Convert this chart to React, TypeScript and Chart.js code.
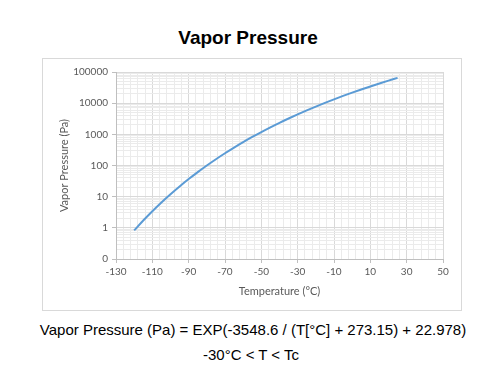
import React, { useEffect, useRef } from 'react';
import { Chart, registerables } from 'chart.js';
Chart.register(...registerables);

const temperatures = [-120, -115, -110, -105, -100, -95, -90, -85, -80, -75, -70, -65, -60, -55, -50, -45, -40, -35, -30, -25, -20, -15, -10, -5, 0, 5, 10, 15, 20, 25];
const pressures = [0.825, 1.72, 3.41, 6.52, 11.98, 21.3, 36.7, 61.4, 100.0, 159, 247, 376, 561, 822, 1183, 1676, 2340, 3221, 4375, 5871, 7787, 10216, 13270, 17070, 21730, 27460, 34400, 42760, 52760, 64600];

const xMin = -130;
const xMax = 50;
const xMinorStep = 4;
const xMajorTicks = [-130, -110, -90, -70, -50, -30, -10, 10, 30, 50];
const xTickLabels = ['-130', '-110', '-90', '-70', '-50', '-30', '-10', '10', '30', '50'];

const yMajorValues = [0.1, 1, 10, 100, 1000, 10000, 100000];
const yTickLabels = ['0', '1', '10', '100', '1000', '10000', '100000'];

const chartTitle = 'Vapor Pressure';
const xTitle = 'Temperature (°C)';
const yTitle = 'Vapor Pressure (Pa)';
const formulaLine1 = 'Vapor Pressure (Pa) = EXP(-3548.6 / (T[°C] + 273.15) + 22.978)';
const formulaLine2 = '-30°C < T < Tc';

const MAJOR = '#d9d9d9';
const MINOR = '#ebebeb';
const TICK_FONT = { family: 'Lato, "Open Sans", sans-serif', size: 10 };
const TITLE_FONT = { family: 'Lato, "Open Sans", sans-serif', size: 11 };

export default function App() {
  const ref = useRef<HTMLCanvasElement | null>(null);

  useEffect(() => {
    if (!ref.current) return;
    const isMajorX = (v: number) => xMajorTicks.indexOf(v) >= 0;
    const isMajorY = (v: number) => yMajorValues.indexOf(v) >= 0;

    const chart = new Chart(ref.current, {
      type: 'line',
      data: {
        datasets: [
          {
            data: temperatures.map((t, i) => ({ x: t, y: pressures[i] })),
            borderColor: '#5b9bd5',
            borderWidth: 2,
            pointRadius: 0,
            cubicInterpolationMode: 'monotone',
            fill: false,
          },
        ],
      },
      options: {
        responsive: false,
        animation: false,
        events: [],
        layout: { padding: { left: 0, top: 13, right: 18, bottom: 0 } },
        plugins: { legend: { display: false }, tooltip: { enabled: false } },
        scales: {
          x: {
            type: 'linear',
            min: xMin,
            max: xMax,
            afterBuildTicks: (scale: any) => {
              const ticks = [];
              for (let v = xMin; v <= xMax; v += xMinorStep) ticks.push({ value: v });
              scale.ticks = ticks;
            },
            afterFit: (scale: any) => {
              scale.height = 51;
            },
            ticks: {
              autoSkip: false,
              maxRotation: 0,
              color: '#595959',
              font: TICK_FONT,
              padding: 3,
              callback: (value: any) => {
                const i = xMajorTicks.indexOf(Number(value));
                return i >= 0 ? xTickLabels[i] : '';
              },
            },
            grid: {
              color: (ctx: any) => (ctx.tick && isMajorX(ctx.tick.value) ? MAJOR : MINOR),
              tickColor: (ctx: any) => (ctx.tick && isMajorX(ctx.tick.value) ? '#bfbfbf' : 'rgba(0,0,0,0)'),
              tickLength: 4,
            },
            border: { color: '#bfbfbf' },
            title: {
              display: true,
              text: xTitle,
              color: '#595959',
              font: TITLE_FONT,
              padding: { top: 0, bottom: 12 },
            },
          },
          y: {
            type: 'logarithmic',
            min: yMajorValues[0],
            max: yMajorValues[yMajorValues.length - 1],
            afterBuildTicks: (scale: any) => {
              const ticks = [];
              for (let d = 0; d < yMajorValues.length - 1; d++) {
                for (let k = 1; k <= 9; k++) ticks.push({ value: yMajorValues[d] * k });
              }
              ticks.push({ value: yMajorValues[yMajorValues.length - 1] });
              scale.ticks = ticks;
            },
            afterFit: (scale: any) => {
              scale.width = 73;
            },
            ticks: {
              autoSkip: false,
              color: '#595959',
              font: TICK_FONT,
              padding: 4,
              callback: (value: any) => {
                const i = yMajorValues.indexOf(Number(value));
                return i >= 0 ? yTickLabels[i] : '';
              },
            },
            grid: {
              color: (ctx: any) => (ctx.tick && isMajorY(ctx.tick.value) ? MAJOR : MINOR),
              tickColor: (ctx: any) => (ctx.tick && isMajorY(ctx.tick.value) ? '#bfbfbf' : 'rgba(0,0,0,0)'),
              tickLength: 4,
            },
            border: { color: '#bfbfbf' },
            title: {
              display: true,
              text: yTitle,
              color: '#595959',
              font: TITLE_FONT,
              padding: { top: 15, bottom: 0 },
            },
          },
        },
      } as any,
    });
    return () => chart.destroy();
  }, []);

  return (
    <div>
      <div
        style={{
          position: 'absolute',
          left: 0,
          top: 26,
          width: 496,
          textAlign: 'center',
          fontFamily: '"Liberation Sans", Arial, sans-serif',
          fontWeight: 'bold',
          fontSize: 19,
          lineHeight: '24px',
          color: '#000',
        }}
      >
        {chartTitle}
      </div>
      <div
        style={{
          position: 'absolute',
          left: 42,
          top: 58,
          width: 420,
          height: 253,
          border: '1px solid #d9d9d9',
          boxSizing: 'border-box',
          background: '#fff',
        }}
      >
        <canvas ref={ref} width={418} height={251} style={{ display: 'block', width: 418, height: 251 }} />
      </div>
      <div
        style={{
          position: 'absolute',
          left: 5,
          top: 320,
          width: 496,
          textAlign: 'center',
          fontFamily: '"Liberation Sans", Arial, sans-serif',
          fontSize: 15,
          lineHeight: '20px',
          color: '#000',
        }}
      >
        {formulaLine1}
      </div>
      <div
        style={{
          position: 'absolute',
          left: 3,
          top: 345,
          width: 496,
          textAlign: 'center',
          fontFamily: '"Liberation Sans", Arial, sans-serif',
          fontSize: 15,
          lineHeight: '20px',
          color: '#000',
        }}
      >
        {formulaLine2}
      </div>
    </div>
  );
}
